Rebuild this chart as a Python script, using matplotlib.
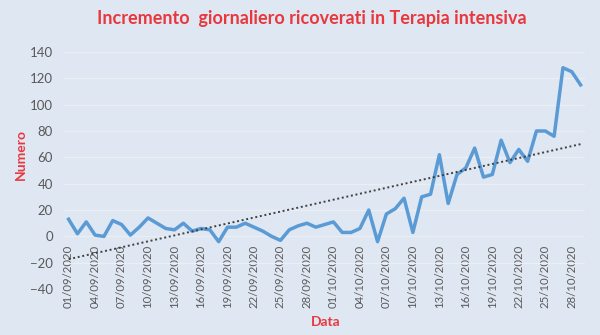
import matplotlib
matplotlib.use("Agg")
import matplotlib.pyplot as plt
import matplotlib.dates as mdates
import numpy as np
import pandas as pd

# daily increase of ICU patients, 01/09/2020 .. 29/10/2020
dates = pd.date_range("2020-09-01", "2020-10-29", freq="D")
values = [
    13, 2, 11, 1, 0, 12, 9, 1, 7, 14,
    10, 6, 5, 10, 4, 6, 5, -4, 7, 7,
    10, 7, 4, 0, -3, 5, 8, 10, 7, 9,
    11, 3, 3, 6, 20, -4, 17, 21, 29, 3,
    30, 32, 62, 25, 47, 52, 67, 45, 47, 73,
    56, 66, 57, 80, 80, 76, 128, 125, 115,
]
y_ticks = list(range(-40, 141, 20))
title = "Incremento  giornaliero ricoverati in Terapia intensiva"

BG = "#dfe7f2"
GRID = "#eaeff6"
RED = "#e8383d"
TICK = "#595959"

plt.rcParams["font.family"] = ["Lato", "DejaVu Sans"]

fig = plt.figure(figsize=(6.0, 3.35), dpi=100, facecolor=BG)
ax = fig.add_axes([0.107, 0.137, 0.868, 0.708])
ax.set_facecolor(BG)

x = mdates.date2num(dates)
ax.plot(x, values, color="#5b9bd5", lw=2.5, solid_joinstyle="round", zorder=3)

# linear trend line
coef = np.polyfit(np.arange(len(values)), values, 1)
trend = np.polyval(coef, np.arange(len(values)))
ax.plot(x, trend, color="#404040", lw=1.4, linestyle=(0, (1, 1.4)), zorder=4)

# category axis crosses at zero, labels hang just below it
ax.spines["bottom"].set_position(("data", 0))
ax.spines["bottom"].set_color("#d0d6de")
ax.spines["bottom"].set_zorder(1)
for s in ("top", "left", "right"):
    ax.spines[s].set_visible(False)

ax.set_ylim(-40, 140)
ax.set_yticks(y_ticks)
ax.set_xlim(x[0] - 0.5, x[-1] + 0.5)
ax.set_xticks(x[::3])
ax.set_xticklabels([d.strftime("%d/%m/%Y") for d in dates[::3]], rotation=90)

ax.grid(axis="y", color=GRID, lw=1.0, zorder=0)
ax.tick_params(length=0, colors=TICK)
ax.tick_params(axis="y", pad=8, labelsize=9.5)
ax.tick_params(axis="x", pad=6, labelsize=8.2)

fig.text(0.52, 0.946, title, ha="center", va="center", color=RED,
         fontsize=13, fontweight="bold")
fig.text(0.034, 0.54, "Numero", ha="center", va="center", color=RED,
         fontsize=10, fontweight="bold", rotation=90)
fig.text(0.543, 0.038, "Data", ha="center", va="center", color=RED,
         fontsize=10, fontweight="bold")

fig.savefig("out.png", dpi=100, facecolor=BG)
